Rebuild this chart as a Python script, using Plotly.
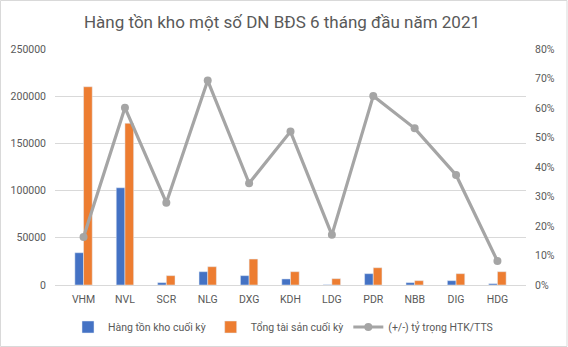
import plotly.graph_objects as go

categories = ["VHM", "NVL", "SCR", "NLG", "DXG", "KDH", "LDG", "PDR", "NBB", "DIG", "HDG"]
inventory = [34200, 103000, 2500, 14100, 9900, 6400, 300, 12000, 2500, 4600, 1400]
total_assets = [210000, 171300, 9900, 19400, 27500, 14100, 6700, 18300, 4600, 12000, 14100]
ratio = [0.163, 0.601, 0.279, 0.693, 0.345, 0.520, 0.170, 0.641, 0.531, 0.373, 0.081]

left_ticks = [0, 50000, 100000, 150000, 200000, 250000]
right_ticks = [0, 0.1, 0.2, 0.3, 0.4, 0.5, 0.6, 0.7, 0.8]

FONT = "Roboto"
GREY = "#595959"

L, R, T, B = 55, 42, 49, 62
PW = 568 - L - R
PH = 347 - T - B

fig = go.Figure()
fig.add_trace(go.Bar(x=categories, y=inventory, name="Hàng tồn kho cuối kỳ",
                     marker_color="#4472C4"))
fig.add_trace(go.Bar(x=categories, y=total_assets, name="Tổng tài sản cuối kỳ",
                     marker_color="#ED7D31"))
fig.add_trace(go.Scatter(x=categories, y=ratio, name="(+/-) tỷ trọng HTK/TTS",
                         yaxis="y2", mode="lines+markers",
                         line=dict(color="#A5A5A5", width=3.2),
                         marker=dict(color="#A5A5A5", size=8)))

fig.update_layout(
    width=568, height=347,
    margin=dict(l=L, r=R, t=T, b=B, autoexpand=False),
    paper_bgcolor="white", plot_bgcolor="white",
    font=dict(family=FONT, size=11, color=GREY),
    title=dict(text="Hàng tồn kho một số DN BĐS 6 tháng đầu năm 2021",
               xref="paper", x=(282 - L) / PW, xanchor="center",
               yref="container", y=1 - 22 / 347, yanchor="middle",
               font=dict(family=FONT, size=17, color=GREY)),
    barmode="group", bargap=0.58, bargroupgap=0,
    xaxis=dict(showgrid=False, showline=True, linecolor="#D9D9D9", linewidth=1,
               ticks="", ticklabelstandoff=4, tickfont=dict(size=10.5, color=GREY)),
    yaxis=dict(range=[0, 250000], tickvals=left_ticks,
               ticktext=[str(v) for v in left_ticks],
               showgrid=True, gridcolor="#D9D9D9", gridwidth=1, zeroline=False,
               ticks="", ticklabelstandoff=8, tickfont=dict(size=10.5, color=GREY)),
    yaxis2=dict(range=[0, 0.8], tickvals=right_ticks, tickformat=".0%",
                overlaying="y", side="right", showgrid=False, zeroline=False,
                ticks="", ticklabelstandoff=8, tickfont=dict(size=10.5, color=GREY)),
    legend=dict(orientation="h", x=(283 - L) / PW, xanchor="center",
                y=-(327 - 285) / PH, yanchor="middle",
                font=dict(size=10.5, color=GREY), traceorder="normal"),
    showlegend=True,
    shapes=[dict(type="rect", xref="paper", yref="paper",
                 x0=-(L - 0.5) / PW, x1=1 + (R - 1) / PW,
                 y0=-(B - 0.5) / PH, y1=1 + (T - 0.5) / PH,
                 line=dict(color="#D9D9D9", width=1), fillcolor="rgba(0,0,0,0)", layer="below")],
)

fig.write_html("out.html")
